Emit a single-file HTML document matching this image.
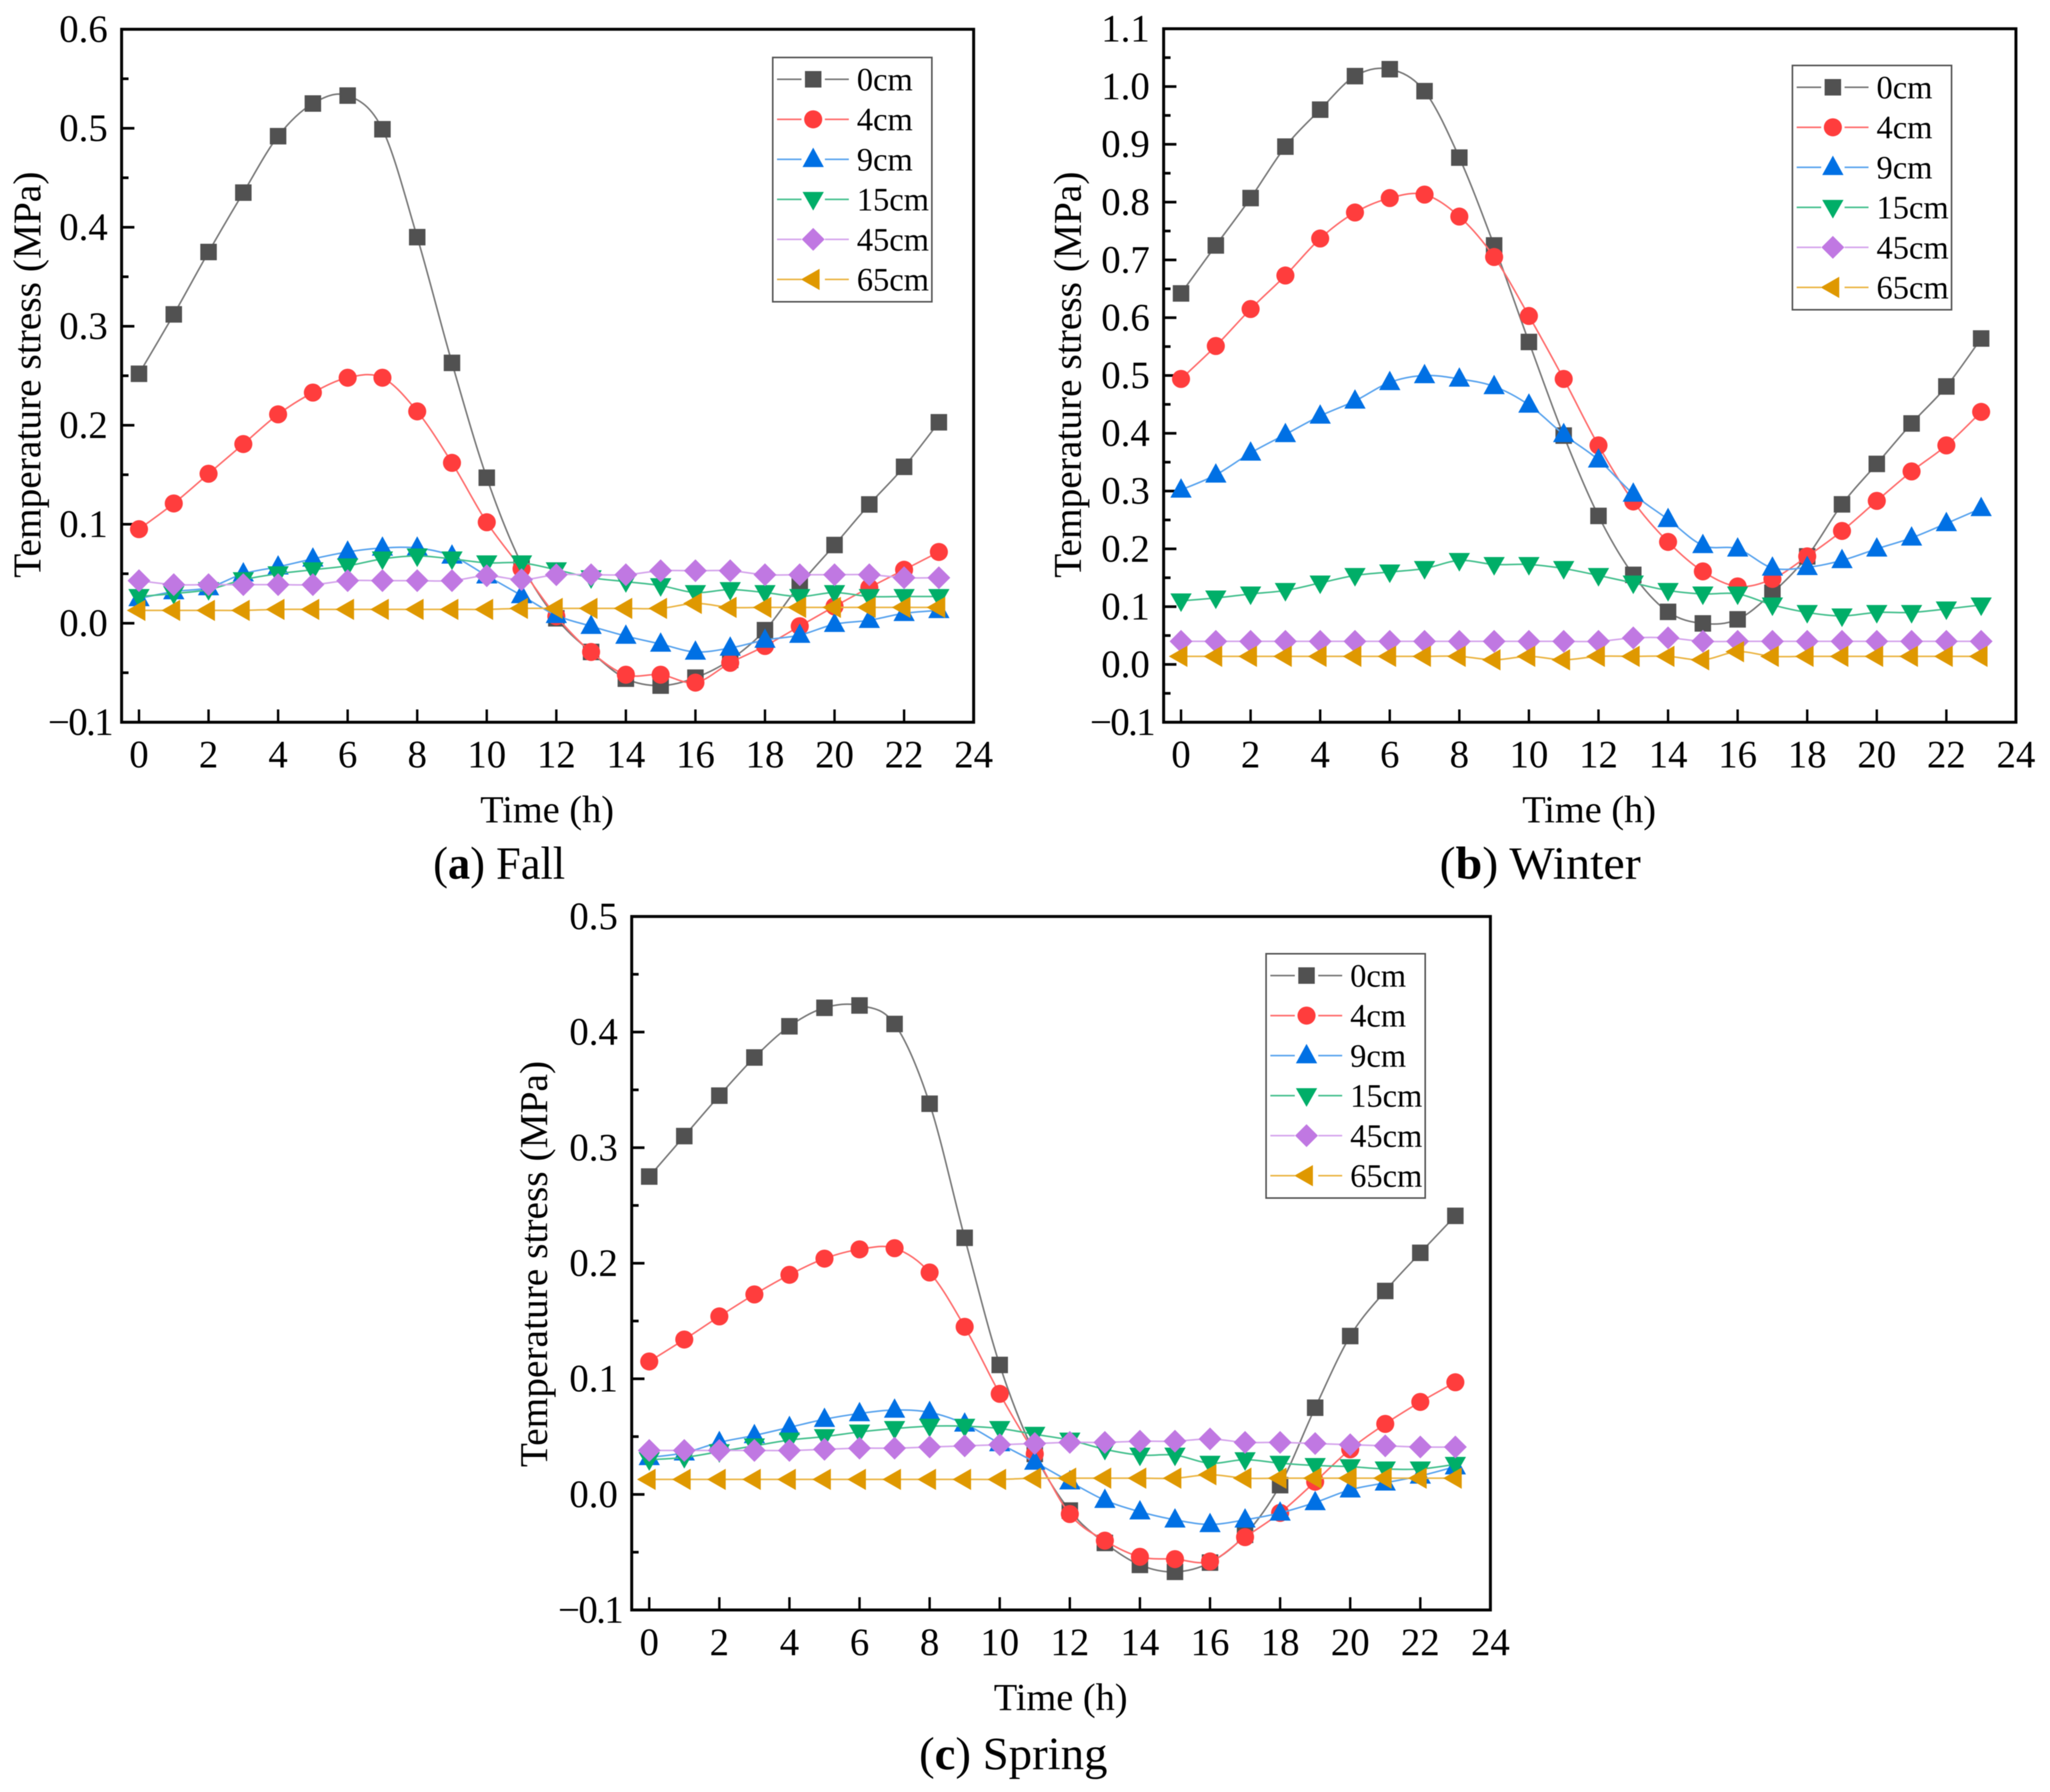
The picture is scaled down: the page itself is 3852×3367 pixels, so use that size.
<!DOCTYPE html>
<html>
<head>
<meta charset="utf-8">
<title>Temperature stress by depth and season</title>
<style>
html,body{margin:0;padding:0;background:#fff;}
svg{display:block;filter:blur(0.7px);}
text{font-family:"Liberation Serif",serif;fill:#000;}
</style>
</head>
<body>
<svg id="fig" xmlns="http://www.w3.org/2000/svg" width="3852" height="3367" viewBox="0 0 3852 3367">
<rect width="3852" height="3367" fill="#fff"/>
<text transform="translate(76,704) rotate(-90)" text-anchor="middle" font-size="74">Temperature stress (MPa)</text>
<text transform="translate(2031,704) rotate(-90)" text-anchor="middle" font-size="74">Temperature stress (MPa)</text>
<text transform="translate(1028,2375) rotate(-90)" text-anchor="middle" font-size="74">Temperature stress (MPa)</text>
<text x="1028" y="1545" text-anchor="middle" font-size="72">Time (h)</text>
<text x="2986" y="1545" text-anchor="middle" font-size="72">Time (h)</text>
<text x="1993" y="3213" text-anchor="middle" font-size="72">Time (h)</text>
<text x="938" y="1651" text-anchor="middle" font-size="87" textLength="248" lengthAdjust="spacingAndGlyphs">(<tspan font-weight="bold">a</tspan>) Fall</text>
<text x="2894" y="1651" text-anchor="middle" font-size="87" textLength="378" lengthAdjust="spacingAndGlyphs">(<tspan font-weight="bold">b</tspan>) Winter</text>
<text x="1904" y="3324" text-anchor="middle" font-size="87" textLength="354" lengthAdjust="spacingAndGlyphs">(<tspan font-weight="bold">c</tspan>) Spring</text>
</svg>
<script>
// ---- data ----
const hours = [0,1,2,3,4,5,6,7,8,9,10,11,12,13,14,15,16,17,18,19,20,21,22,23];
const xTickLabels = ['0','2','4','6','8','10','12','14','16','18','20','22','24'];
const seriesNames = ['0cm','4cm','9cm','15cm','45cm','65cm'];

const fallYTicks = ['−0.1','0.0','0.1','0.2','0.3','0.4','0.5','0.6'];
const fall0cm = [.252,.312,.375,.435,.492,.525,.533,.499,.39,.263,.147,.06,.005,-.029,-.056,-.063,-.055,-.037,-.007,.039,.079,.12,.158,.203];
const fall4cm = [.095,.121,.151,.181,.211,.233,.248,.248,.214,.162,.102,.055,.007,-.029,-.052,-.052,-.060,-.040,-.023,-.003,.017,.036,.054,.072];
const fall9cm = [.025,.032,.036,.050,.057,.065,.072,.076,.076,.068,.048,.028,.008,-.003,-.013,-.021,-.029,-.025,-.017,-.012,-.001,.003,.010,.013];
const fall15cm = [.027,.030,.034,.044,.050,.054,.058,.065,.068,.065,.061,.061,.054,.046,.042,.038,.031,.034,.031,.027,.031,.027,.027,.027];
const fall45cm = [.043,.039,.039,.039,.039,.039,.043,.043,.043,.043,.048,.044,.049,.049,.049,.053,.053,.053,.049,.049,.049,.049,.046,.046];
const fall65cm = [.013,.013,.013,.013,.014,.014,.014,.014,.014,.014,.014,.015,.015,.015,.015,.015,.020,.016,.016,.016,.016,.016,.016,.016];

const winterYTicks = ['−0.1','0.0','0.1','0.2','0.3','0.4','0.5','0.6','0.7','0.8','0.9','1.0','1.1'];
const winter0cm = [.642,.725,.807,.896,.960,1.018,1.030,.992,.877,.725,.558,.396,.257,.155,.091,.071,.078,.124,.187,.277,.347,.417,.481,.564];
const winter4cm = [.494,.551,.615,.673,.737,.782,.807,.813,.775,.705,.603,.494,.379,.282,.212,.161,.135,.148,.187,.231,.283,.334,.379,.437];
const winter9cm = [.302,.328,.366,.398,.430,.456,.488,.500,.494,.481,.449,.398,.354,.295,.251,.206,.200,.167,.168,.180,.200,.219,.244,.270];
const winter15cm = [.110,.115,.122,.128,.141,.154,.160,.166,.180,.173,.173,.166,.154,.141,.128,.122,.122,.103,.090,.084,.090,.090,.096,.103];
const winter45cm = [.040,.040,.040,.040,.040,.040,.040,.040,.040,.040,.040,.040,.040,.046,.046,.040,.040,.040,.040,.040,.040,.040,.040,.040];
const winter65cm = [.014,.014,.014,.014,.014,.014,.014,.014,.014,.008,.014,.008,.014,.014,.014,.008,.022,.014,.014,.014,.014,.014,.014,.014];

const springYTicks = ['−0.1','0.0','0.1','0.2','0.3','0.4','0.5'];
const spring0cm = [.275,.310,.345,.378,.405,.421,.423,.407,.338,.222,.112,.035,-.014,-.042,-.061,-.067,-.059,-.035,.008,.075,.137,.176,.209,.241];
const spring4cm = [.115,.134,.154,.173,.190,.204,.212,.213,.192,.145,.087,.035,-.017,-.040,-.054,-.056,-.058,-.037,-.016,.011,.039,.061,.080,.097];
const spring9cm = [.032,.036,.045,.051,.058,.065,.070,.073,.071,.061,.044,.028,.011,-.005,-.015,-.022,-.026,-.022,-.016,-.007,.004,.010,.016,.024];
const spring15cm = [.030,.032,.037,.042,.047,.050,.054,.057,.059,.059,.057,.052,.047,.039,.034,.034,.027,.030,.027,.025,.024,.022,.022,.026];
const spring45cm = [.038,.038,.038,.038,.038,.039,.040,.040,.041,.042,.043,.044,.045,.045,.046,.046,.048,.045,.045,.044,.043,.042,.041,.041];
const spring65cm = [.013,.013,.013,.013,.013,.013,.013,.013,.013,.013,.013,.014,.014,.014,.014,.014,.017,.014,.014,.014,.014,.014,.014,.014];

// ---- styling and layout ----
const colors = ['#515151','#FF3D3D','#0070E4','#00AE68','#C078E2','#DF9800'];
const lineColors = ['#777777','#FF6B6B','#5AA4EE','#45C08E','#D5A5EC','#EBB544'];
const SVGNS = 'http://www.w3.org/2000/svg';
const fig = document.getElementById('fig');

function el(tag, parent, attrs) {
  const n = document.createElementNS(SVGNS, tag);
  for (const k in attrs) n.setAttribute(k, attrs[k]);
  parent.appendChild(n);
  return n;
}

function drawMarker(parent, kind, cx, cy, name) {
  let m;
  if (kind === 0) {
    m = el('rect', parent, {x: cx - 15.5, y: cy - 15.5, width: 31, height: 31, fill: colors[0]});
  } else if (kind === 1) {
    m = el('circle', parent, {cx: cx, cy: cy, r: 17, fill: colors[1]});
  } else if (kind === 2) {
    m = el('polygon', parent, {points: [cx, cy - 22, cx + 20, cy + 14.5, cx - 20, cy + 14.5].join(','), fill: colors[2]});
  } else if (kind === 3) {
    m = el('polygon', parent, {points: [cx - 20, cy - 14, cx + 20, cy - 14, cx, cy + 21].join(','), fill: colors[3]});
  } else if (kind === 4) {
    m = el('polygon', parent, {points: [cx, cy - 21.5, cx + 21.5, cy, cx, cy + 21.5, cx - 21.5, cy].join(','), fill: colors[4]});
  } else {
    m = el('polygon', parent, {points: [cx - 23, cy, cx + 12, cy - 20, cx + 12, cy + 20].join(','), fill: colors[5]});
  }
  
  
  return m;
}

function splinePath(pts) {
  let d = 'M' + pts[0][0] + ' ' + pts[0][1];
  for (let i = 0; i < pts.length - 1; i++) {
    const p0 = pts[Math.max(i - 1, 0)], p1 = pts[i], p2 = pts[i + 1], p3 = pts[Math.min(i + 2, pts.length - 1)];
    const c1x = p1[0] + (p2[0] - p0[0]) / 6, c1y = p1[1] + (p2[1] - p0[1]) / 6;
    const c2x = p2[0] - (p3[0] - p1[0]) / 6, c2y = p2[1] - (p3[1] - p1[1]) / 6;
    d += ' C' + c1x.toFixed(2) + ' ' + c1y.toFixed(2) + ' ' + c2x.toFixed(2) + ' ' + c2y.toFixed(2) + ' ' + p2[0].toFixed(2) + ' ' + p2[1].toFixed(2);
  }
  return d;
}

function drawPanel(p) {
  const g = el('g', fig, {});
  
  

  const xScale = h => p.left + (h - p.xMin) / (24 - p.xMin) * (p.right - p.left);
  const yScale = v => p.bottom - (v - p.yMin) / (p.yMax - p.yMin) * (p.bottom - p.top);

  // y ticks and labels
  const yCount = p.yTicks.length;
  for (let i = 0; i < yCount; i++) {
    const v = p.yMin + i * 0.1;
    const y = yScale(v);
    const t = el('line', g, {x1: p.left, x2: p.left + 24, y1: y, y2: y, stroke: '#000', 'stroke-width': 5});
    
    
    if (i < yCount - 1) {
      const ym = yScale(v + 0.05);
      const tm = el('line', g, {x1: p.left, x2: p.left + 13, y1: ym, y2: ym, stroke: '#000', 'stroke-width': 5});
      
      
    }
    const neg = p.yTicks[i].charAt(0) === '−';
    const lab = el('text', g, {x: p.left - 26 + (neg ? 8 : 0), y: y + 24, 'text-anchor': 'end', 'font-size': 73});
    if (neg) lab.setAttribute('letter-spacing', '-3');
    lab.textContent = p.yTicks[i];
    
    
  }

  // x ticks and labels
  xTickLabels.forEach(function (label) {
    const x = xScale(Number(label));
    const t = el('line', g, {x1: x, x2: x, y1: p.bottom, y2: p.bottom - 24, stroke: '#000', 'stroke-width': 4.5});
    
    
    const lab = el('text', g, {x: x, y: p.bottom + 85, 'text-anchor': 'middle', 'font-size': 73});
    lab.textContent = label;
    
    
  });

  // series
  p.series.forEach(function (vals, s) {
    const sg = el('g', g, {});
    
    
    const pts = vals.map((v, i) => [xScale(hours[i]), yScale(v)]);
    const line = el('path', sg, {d: splinePath(pts), fill: 'none', stroke: lineColors[s], 'stroke-width': 3});
    
    
    pts.forEach(function (pt) {
      drawMarker(sg, s, pt[0], pt[1], 'point-' + seriesNames[s]);
    });
  });

  // frame
  const frame = el('path', g, {d: 'M' + p.left + ' ' + p.top + 'H' + p.right + 'V' + p.bottom + 'H' + p.left + 'Z', fill: 'none', stroke: '#000', 'stroke-width': 5.5});
  
  

  // legend
  const lg = el('g', g, {});
  
  
  const box = el('rect', lg, {x: p.legX, y: p.legY, width: 299, height: 459, fill: '#fff', stroke: '#555', 'stroke-width': 3});
  
  
  seriesNames.forEach(function (nm, s) {
    const ry = p.legY + 41 + s * 75.2;
    const mx = p.legX + 76;
    const e = el('g', lg, {});
    
    
    el('line', e, {x1: p.legX + 8, x2: mx - 22, y1: ry, y2: ry, stroke: lineColors[s], 'stroke-width': 3});
    el('line', e, {x1: mx + 22, x2: p.legX + 143, y1: ry, y2: ry, stroke: lineColors[s], 'stroke-width': 3});
    drawMarker(e, s, mx, ry, 'legend-marker-' + nm);
    const t = el('text', e, {x: p.legX + 158, y: ry + 21, 'font-size': 61});
    t.textContent = nm;
    
    
  });
}

drawPanel({
  name: 'fall', left: 228.5, right: 1829.5, top: 55, bottom: 1357, xMin: -0.5, yMin: -0.1, yMax: 0.6,
  yTicks: fallYTicks, series: [fall0cm, fall4cm, fall9cm, fall15cm, fall45cm, fall65cm], legX: 1452, legY: 108
});
drawPanel({
  name: 'winter', left: 2186.5, right: 3788, top: 54, bottom: 1357, xMin: -0.5, yMin: -0.1, yMax: 1.1,
  yTicks: winterYTicks, series: [winter0cm, winter4cm, winter9cm, winter15cm, winter45cm, winter65cm], legX: 3368, legY: 123
});
drawPanel({
  name: 'spring', left: 1187, right: 2800.5, top: 1722, bottom: 3025, xMin: -0.5, yMin: -0.1, yMax: 0.5,
  yTicks: springYTicks, series: [spring0cm, spring4cm, spring9cm, spring15cm, spring45cm, spring65cm], legX: 2379, legY: 1792
});
</script>
</body>
</html>
